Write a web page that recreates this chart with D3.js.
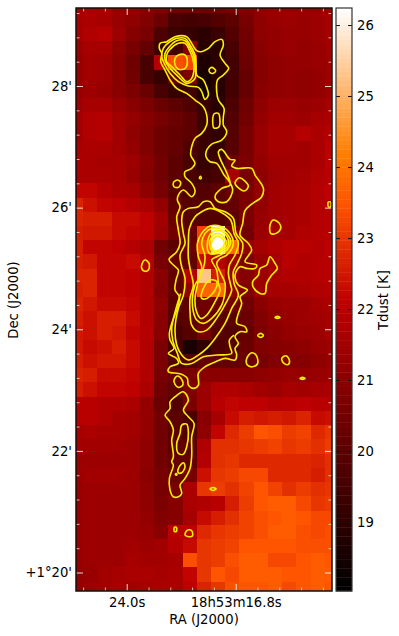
<!DOCTYPE html>
<html>
<head>
<meta charset="utf-8">
<script src="https://cdn.jsdelivr.net/npm/d3@7"></script>
<style>
  html, body { margin: 0; background: #fff; }
  svg { display: block; }
  text { font-family: "DejaVu Sans", sans-serif; font-size: 13.2px; fill: #000; }
</style>
</head>
<body>
<div id="chart"></div>
<script>
// Tdust map in K, one row per map line (north at the top), 19 columns east to west
const tdustMap = [
  [21.5,21.6,21.6,21.3,21.2,21.0,20.8,20.5,20.4,20.4,20.5,20.7,20.8,21.1,21.3,21.3,21.3,21.3,21.4],
  [21.6,21.7,21.6,21.3,21.1,20.8,20.3,19.6,19.5,19.6,19.8,20.0,20.6,21.1,21.3,21.4,21.3,21.4,21.6],
  [21.6,21.8,22.0,21.4,20.9,20.6,19.7,19.3,19.2,19.0,19.3,19.8,20.5,21.1,21.2,21.3,21.3,21.4,21.6],
  [21.4,21.6,21.6,21.1,20.6,20.2,19.3,19.5,20.9,18.9,18.9,19.6,20.4,21.0,21.2,21.3,21.2,21.3,21.5],
  [21.3,21.5,21.4,21.0,20.4,19.6,21.9,23.4,23.3,18.7,19.0,19.5,20.3,20.9,21.1,21.2,21.2,21.3,21.4],
  [21.3,21.5,21.4,21.0,20.5,19.6,19.2,20.2,20.7,18.5,18.9,19.5,20.2,20.9,21.1,21.2,21.1,21.2,21.4],
  [21.3,21.4,21.3,21.0,20.7,20.3,19.6,19.2,19.4,18.5,18.9,19.5,20.2,21.0,21.1,21.2,21.1,21.2,21.4],
  [21.4,21.6,21.6,21.3,21.0,20.7,20.3,20.0,19.7,19.2,18.9,19.7,20.4,21.1,21.4,21.4,21.3,21.4,21.6],
  [21.5,21.8,21.9,21.5,21.2,20.9,20.6,20.3,20.0,19.3,19.1,19.8,20.5,21.2,21.5,21.5,21.4,21.6,21.7],
  [21.5,21.8,21.9,21.5,21.1,20.8,20.4,20.2,20.0,19.3,19.1,19.9,20.6,21.3,21.6,21.6,21.9,21.7,21.9],
  [21.6,21.7,21.7,21.5,21.2,20.8,20.4,20.2,19.7,19.3,19.2,19.9,20.6,21.3,21.6,21.6,21.5,21.7,22.1],
  [21.7,21.7,21.6,21.6,21.4,21.0,20.5,20.0,19.6,19.2,19.4,20.4,20.7,21.2,21.5,21.5,21.5,21.7,22.1],
  [21.7,21.7,21.7,21.6,21.3,20.9,20.5,20.0,19.6,19.4,19.6,21.6,20.6,21.1,21.4,21.5,21.6,21.8,22.0],
  [22.2,22.2,21.9,21.7,21.6,21.1,20.6,20.0,19.8,19.8,20.0,20.3,20.7,21.2,21.5,21.6,21.7,21.9,22.1],
  [22.7,22.4,22.2,22.1,21.9,21.7,21.2,20.2,19.9,19.9,20.0,20.2,20.7,21.2,21.5,21.6,21.7,21.9,22.0],
  [22.7,22.6,22.6,22.3,22.3,22.1,21.5,20.3,19.9,19.8,19.8,20.0,20.7,21.3,21.5,21.6,21.7,21.9,22.0],
  [22.6,22.5,22.5,22.3,22.2,22.1,21.4,20.5,20.2,23.2,26.1,20.9,20.5,21.4,21.6,21.6,21.8,21.9,22.0],
  [22.6,22.2,22.2,22.1,21.9,21.7,20.5,20.0,20.3,23.6,26.2,23.8,21.2,21.6,21.8,22.0,22.0,21.9,22.1],
  [22.6,22.5,22.2,22.2,22.3,21.9,20.6,20.3,20.2,22.3,22.0,21.4,20.7,21.3,21.6,22.0,21.8,21.9,22.0],
  [22.7,22.7,22.2,22.2,22.1,21.8,21.0,20.2,21.9,25.3,22.6,21.3,20.9,21.4,21.7,21.8,21.8,21.9,22.0],
  [22.6,22.7,22.2,22.2,22.1,21.8,20.9,20.2,21.2,23.7,23.8,21.2,20.8,21.4,21.6,21.6,21.7,21.8,21.9],
  [22.7,22.5,22.3,22.3,22.2,21.8,21.1,20.0,20.0,20.4,20.4,20.5,20.5,21.0,21.3,21.4,21.4,21.6,21.7],
  [22.6,22.4,22.6,22.6,22.3,21.8,21.0,19.9,20.0,20.3,20.0,20.0,20.3,20.8,21.1,21.3,21.4,21.5,21.6],
  [22.5,22.4,22.6,22.5,22.2,21.9,21.0,19.6,19.9,20.6,19.9,19.8,20.2,20.7,21.0,21.2,21.3,21.4,21.6],
  [22.5,22.3,22.4,22.6,22.3,21.8,20.7,19.5,18.6,19.1,19.7,19.9,20.3,20.8,20.9,21.0,21.1,21.3,21.4],
  [22.6,22.4,22.5,22.5,22.3,21.8,20.7,19.8,19.9,20.2,20.2,20.2,20.3,20.6,20.8,20.9,20.9,21.1,21.3],
  [22.7,22.6,22.3,22.3,22.2,21.8,20.6,20.4,20.6,21.0,21.0,21.0,21.0,21.1,21.2,21.3,21.2,21.3,21.4],
  [22.6,22.4,22.2,22.2,22.1,21.7,20.5,20.1,20.8,21.4,21.8,21.8,21.7,21.5,21.4,21.6,21.5,21.6,21.7],
  [22.0,22.0,21.8,21.8,21.7,21.2,20.3,19.8,20.7,21.4,22.0,22.2,22.1,22.1,21.9,22.0,22.1,22.0,22.0],
  [22.0,22.0,21.8,21.6,21.5,21.2,20.5,20.0,19.7,21.0,21.6,22.3,22.6,22.5,22.6,22.5,22.7,22.3,22.4],
  [21.6,21.7,21.6,21.6,21.5,21.2,20.5,20.0,19.8,21.1,22.2,22.8,23.1,23.5,23.4,23.1,23.2,22.8,23.0],
  [21.5,21.5,21.5,21.5,21.4,21.1,20.5,20.1,20.1,21.8,22.9,22.9,23.0,23.1,23.2,23.0,23.1,22.9,23.1],
  [21.4,21.4,21.4,21.4,21.4,21.1,20.5,20.2,20.2,21.9,22.9,23.0,22.8,22.8,22.8,22.8,22.8,22.7,22.9],
  [21.4,21.5,21.5,21.5,21.4,21.0,20.6,20.3,20.6,22.4,23.0,23.1,23.3,23.3,22.8,22.8,22.8,22.6,22.9],
  [21.3,21.4,21.4,21.4,21.4,21.1,20.6,20.6,21.7,23.0,23.1,22.9,23.2,23.5,23.2,22.9,23.1,22.9,23.0],
  [21.3,21.4,21.4,21.4,21.4,21.1,20.7,20.9,21.7,21.8,22.0,22.6,23.1,23.5,23.6,23.6,23.3,23.0,23.1],
  [21.3,21.4,21.4,21.4,21.4,21.2,20.8,20.9,21.6,22.3,22.6,22.9,23.2,23.4,23.5,23.6,23.5,23.3,23.3],
  [21.3,21.4,21.4,21.4,21.4,21.3,21.0,22.0,22.1,22.8,23.0,23.1,23.2,23.4,23.6,23.6,23.4,23.3,23.4],
  [21.3,21.4,21.4,21.4,21.5,21.4,21.5,21.9,22.3,23.0,23.1,23.2,23.5,23.5,23.5,23.5,23.4,23.4,23.4],
  [21.3,21.4,21.4,21.4,21.6,21.5,21.5,21.6,23.4,23.0,23.1,23.4,23.6,23.6,23.3,23.3,23.5,23.6,23.5],
  [21.2,21.3,21.5,21.6,21.7,21.7,21.6,21.7,22.2,23.0,23.5,23.3,23.6,23.6,23.6,23.5,23.5,23.6,23.6],
  [21.2,21.4,21.5,21.6,21.5,21.6,21.7,21.7,22.1,22.7,23.0,23.4,23.5,23.5,23.6,23.3,23.5,23.6,23.5],
];

// tick positions
const raMajor = [24.0, 16.8];
const raMinor = [26.88, 25.44, 22.56, 21.12, 19.68, 18.24, 15.36, 13.92, 12.48, 11.04];
const decMajor = [20, 22, 24, 26, 28];
const decMinor = [20.4, 20.8, 21.2, 21.6, 22.4, 22.8, 23.2, 23.6, 24.4, 24.8, 25.2, 25.6,
  26.4, 26.8, 27.2, 27.6, 28.4, 28.8, 29.2];
const cbarTicks = [19, 20, 21, 22, 23, 24, 25, 26];

// contours, vertices in [u, v] of the finer contour map
const contourOuter = [
  [315,110],[350,110],[365,130],[378,150],[392,155],[415,145],[435,125],[455,118],[460,135],[450,165],
  [465,190],[476,205],[460,225],[442,240],[440,275],[445,300],[462,325],[460,350],[460,375],[470,395],
  [455,420],[425,432],[410,450],[408,470],[420,485],[440,490],[462,525],[478,545],[488,570],[470,605],
  [445,605],[435,590],[455,565],[480,555],[473,525],[450,475],[445,455],[455,448],[480,478],[495,480],
  [485,497],[500,505],[545,505],[555,525],[580,565],[575,590],[545,612],[525,632],[518,670],[510,705],
  [535,730],[545,750],[525,785],[560,795],[555,805],[530,805],[510,800],[495,825],[505,855],[532,870],
  [510,890],[515,910],[505,940],[500,970],[525,980],[530,995],[510,995],[495,1010],[505,1030],[495,1045],
  [500,1065],[495,1080],[465,1075],[430,1088],[405,1100],[385,1120],[385,1155],[370,1165],[355,1155],[352,1135],
  [340,1125],[325,1120],[295,1115],[300,1100],[325,1090],[320,1075],[295,1060],[312,1045],[300,1020],
  [298,1000],[305,970],[320,930],[328,890],[315,870],[318,840],[325,810],[310,795],[297,778],[320,755],
  [330,730],[325,690],[320,650],[330,620],[322,600],[325,585],[340,570],[365,590],[375,575],[365,550],
  [345,530],[345,515],[365,505],[375,490],[362,465],[365,440],[375,415],[395,400],[410,375],[410,345],
  [400,320],[375,300],[350,280],[320,265],[300,240],[285,210],[272,185],[275,160],[268,145],[270,130],[290,125],
];
const contourClump2 = [
  [300,125],[320,115],[345,115],[360,135],[375,165],[378,195],[380,225],[400,240],[410,262],[415,285],
  [405,298],[395,275],[385,262],[355,258],[325,245],[300,220],[285,195],[275,170],[280,145],
];
const contourClump3 = [
  [298,140],[320,122],[345,122],[358,140],[372,170],[375,200],[375,235],[350,250],[325,230],[300,205],[285,180],[285,160],
];
const contourClump4 = [
  [298,150],[325,130],[345,130],[358,150],[368,175],[372,205],[365,235],[350,245],[330,225],[305,200],[290,185],[290,165],
];
const contourClumpCore = [[315,175],[325,165],[345,165],[352,185],[345,205],[325,208],[315,195]];
// runs along the south end of the main ridge and leaves the ridge on its east side
const contourMainLower = [
  [332,880],[318,925],[305,985],[308,1020],[322,1060],[335,1090],[365,1090],[400,1070],[440,1065],[485,1060],
  [480,1040],[478,1020],[492,1005],
];
const contourMain3 = [
  [340,635],[355,625],[385,620],[400,605],[420,605],[435,625],[465,635],[490,655],[498,700],[518,730],
  [515,760],[502,790],[490,815],[492,850],[505,885],[485,925],[465,970],[435,1015],[410,1045],[385,1065],
  [355,1080],[335,1065],[320,1035],[315,985],[325,925],[340,885],[345,835],[335,800],[330,765],[345,730],
  [340,700],[335,660],
];
const contourMain4 = [
  [358,685],[375,650],[395,635],[420,625],[450,635],[482,660],[492,700],[505,730],[495,765],[478,795],
  [475,820],[482,855],[485,870],[470,905],[440,955],[410,990],[385,995],[365,975],[360,935],[360,895],
  [370,855],[362,815],[355,775],[355,730],
];
const contourMain5 = [
  [382,730],[395,700],[420,678],[455,680],[480,700],[490,730],[470,765],[450,775],[440,790],[450,815],
  [465,850],[465,875],[455,915],[425,955],[400,970],[380,960],[370,935],[367,895],[375,855],[390,830],
  [395,800],[385,770],
];
const contourMain6 = [
  [395,730],[405,700],[425,685],[455,688],[480,715],[480,735],[460,760],[440,770],[425,780],[440,810],
  [445,850],[450,870],[435,905],[410,945],[392,955],[378,930],[375,895],[382,855],[385,840],[400,805],[405,770],
];
const contourMain7 = [[398,870],[420,840],[440,845],[435,870],[410,895],[395,895]];
const contourHot1 = [[412,730],[425,698],[450,692],[472,712],[475,735],[455,755],[435,762],[418,760]];
const contourHot2 = [[418,730],[432,703],[450,702],[468,722],[465,742],[448,752],[430,757]];
const contourHot3 = [[423,733],[437,710],[455,714],[463,733],[450,748],[432,752]];
const contourSouth = [
  [300,1205],[315,1190],[340,1175],[355,1200],[340,1230],[355,1250],[372,1270],[365,1310],[365,1365],
  [360,1405],[345,1435],[330,1455],[335,1480],[325,1490],[310,1490],[300,1470],[298,1435],[310,1395],
  [305,1385],[310,1370],[305,1320],[310,1290],[300,1265],[285,1245],[300,1225],
];
const contourSouthIn = [[335,1275],[350,1272],[355,1300],[350,1340],[340,1362],[325,1360],[320,1330],[330,1300]];
const contourSouthIn2 = [[325,1405],[340,1388],[345,1400],[335,1418],[325,1418]];
const contourIslands = [
  [[417,210],[425,202],[437,212],[430,220],[420,218]],
  [[432,342],[445,340],[447,380],[432,384],[428,365]],
  [[310,548],[322,540],[332,548],[325,562],[312,560]],
  [[388,533],[391,529],[394,533],[391,537]],
  [[495,550],[508,533],[535,558],[522,573]],
  [[775,606],[782,606],[782,620],[775,620]],
  [[215,795],[225,780],[237,790],[235,810],[222,813],[215,805]],
  [[600,770],[615,790],[622,805],[605,825],[590,850],[585,880],[570,880],[550,862],[548,845],[565,825],[570,805],[590,795]],
  [[600,675],[610,660],[628,670],[632,685],[618,700],[602,700]],
  [[615,952],[622,949],[630,952],[622,955]],
  [[563,1006],[572,1000],[580,1006],[572,1012]],
  [[530,1075],[545,1058],[558,1065],[563,1090],[548,1100],[532,1095]],
  [[635,1075],[648,1067],[658,1080],[655,1093],[642,1090]],
  [[690,1135],[697,1132],[705,1135],[697,1138]],
  [[312,1140],[322,1128],[335,1138],[338,1155],[325,1162],[315,1153]],
  [[316,1422],[319,1420],[321,1423],[318,1425]],
  [[420,1466],[429,1462],[438,1466],[429,1471]],
  [[313,1582],[319,1582],[319,1594],[313,1594]],
  [[345,1605],[352,1590],[365,1592],[367,1608],[352,1609]],
];
const closedContours = [contourOuter, contourClump2, contourClump3, contourClump4, contourClumpCore,
  contourMain3, contourMain4, contourMain5, contourMain6, contourMain7,
  contourHot1, contourHot2, contourHot3, contourSouth, contourSouthIn, contourSouthIn2, ...contourIslands];

const width = 399;
const height = 636;
const margin = { top: 8, right: 67, bottom: 45, left: 76 };
const plotRight = width - margin.right;
const plotBottom = height - margin.bottom;

// sky coordinates: RA seconds past 18h53m, Dec arcmin past +1 deg
const x = d3.scaleLinear().domain([27.349, 10.44]).range([margin.left, plotRight]);
const y = d3.scaleLinear().domain([29.283, 19.696]).range([margin.top, plotBottom]);
const cbarY = d3.scaleLinear().domain([26.24, 18.03]).range([margin.top, plotBottom]);

// map grid in sky coordinates
const mapRa0 = 27.818;
const mapDec0 = 29.44;
const cellRa = 0.939;
const cellDec = 0.2339;

// contour map grid to sky
const contourX = (u) => x(24 - (u - 170) / 45.42);
const contourY = (v) => y(28 - (v - 258) / 182.4);

// gist_heat colormap
const heat = (t) => {
  const f = Math.max(0, Math.min(1, (t - 18.03) / (26.24 - 18.03)));
  const c = (v) => Math.round(255 * Math.max(0, Math.min(1, v)));
  return `rgb(${c(1.5 * f)},${c(2 * f - 1)},${c(4 * f - 3)})`;
};

const svg = d3.select("#chart").append("svg").attr("width", width).attr("height", height);

const defs = svg.append("defs");
defs.append("clipPath").attr("id", "plot-clip")
  .append("rect")
  .attr("x", margin.left)
  .attr("y", margin.top)
  .attr("width", plotRight - margin.left)
  .attr("height", plotBottom - margin.top);

// the reference is slightly soft from resampling
defs.append("filter").attr("id", "soft")
  .attr("color-interpolation-filters", "sRGB")
  .append("feGaussianBlur").attr("stdDeviation", 0.3);

const gClip = svg.append("g").attr("clip-path", "url(#plot-clip)");
const gMap = gClip.append("g").attr("filter", "url(#soft)");

tdustMap.forEach((row, i) => {
  gMap.append("g")
    .selectAll("rect")
    .data(row)
    .join("rect")
    .attr("x", (d, j) => x(mapRa0 - j * cellRa))
    .attr("y", y(mapDec0 - i * cellDec))
    .attr("width", x(mapRa0 - cellRa) - x(mapRa0))
    .attr("height", y(mapDec0 - cellDec) - y(mapDec0))
    .attr("fill", (d) => heat(d))
    .attr("shape-rendering", "crispEdges");
});

const closedLine = d3.line()
  .x((d) => contourX(d[0]))
  .y((d) => contourY(d[1]))
  .curve(d3.curveCatmullRomClosed.alpha(0.5));

const openLine = d3.line()
  .x((d) => contourX(d[0]))
  .y((d) => contourY(d[1]))
  .curve(d3.curveCatmullRom.alpha(0.5));

gMap.selectAll(".contour")
  .data(closedContours)
  .join("path")
  .attr("class", "contour")
  .attr("d", closedLine);

gMap.append("path")
  .attr("class", "contour")
  .attr("d", openLine(contourMainLower));

gMap.selectAll(".contour")
  .attr("fill", "none")
  .attr("stroke", "#fbf000")
  .attr("stroke-width", 1.6);

// ticks point into the map, drawn white on all four sides
const tickStyle = (g, size) => {
  g.select(".domain").remove();
  g.selectAll("line").attr("stroke", "#fff").attr("stroke-opacity", size > 5 ? 0.85 : 0.7);
};

const addAxis = (axis, tx, ty, values, size, fmt) => {
  const g = svg.append("g")
    .attr("transform", `translate(${tx},${ty})`)
    .call(axis.tickValues(values).tickSize(-size).tickPadding(6).tickFormat(fmt || ""));
  tickStyle(g, size);
  return g;
};

addAxis(d3.axisBottom(x), 0, plotBottom, raMinor, 3.5);
addAxis(d3.axisTop(x), 0, margin.top, raMinor, 3.5);
addAxis(d3.axisLeft(y), margin.left, 0, decMinor, 3.5);
addAxis(d3.axisRight(y), plotRight, 0, decMinor, 3.5);

const raLabel = (d) => (d === 24 ? "24.0s" : "18h53m16.8s");
const decLabel = (d) => (d === 20 ? "+1°20'" : `${d}'`);

addAxis(d3.axisBottom(x), 0, plotBottom, raMajor, 7, raLabel)
  .selectAll("text").attr("dy", "0.71em").attr("y", 7);
addAxis(d3.axisTop(x), 0, margin.top, raMajor, 7);
addAxis(d3.axisLeft(y), margin.left, 0, decMajor, 7, decLabel)
  .selectAll("text").attr("x", -4);
addAxis(d3.axisRight(y), plotRight, 0, decMajor, 7);

svg.append("rect")
  .attr("x", margin.left)
  .attr("y", margin.top)
  .attr("width", plotRight - margin.left)
  .attr("height", plotBottom - margin.top)
  .attr("fill", "none")
  .attr("stroke", "#111")
  .attr("stroke-width", 1.5);

// colorbar
const cbarLeft = 336;
const cbarWidth = 16;
const cbarLevels = d3.range(128).map((i) => 18.03 + (i + 0.5) * (26.24 - 18.03) / 128);
const cbarStep = (26.24 - 18.03) / 128;

svg.append("g")
  .selectAll("rect")
  .data(cbarLevels)
  .join("rect")
  .attr("x", cbarLeft)
  .attr("y", (d) => cbarY(d + cbarStep / 2))
  .attr("width", cbarWidth)
  .attr("height", cbarY(0) - cbarY(cbarStep) + 0.4)
  .attr("fill", (d) => heat(d));

const gCbarLeft = svg.append("g")
  .attr("transform", `translate(${cbarLeft},0)`)
  .call(d3.axisLeft(cbarY).tickValues(cbarTicks).tickSize(-4).tickFormat(""));
gCbarLeft.select(".domain").remove();
gCbarLeft.selectAll("line").attr("stroke", "#111");

const gCbarRight = svg.append("g")
  .attr("transform", `translate(${cbarLeft + cbarWidth},0)`)
  .call(d3.axisRight(cbarY).tickValues(cbarTicks).tickSize(-4).tickPadding(5).tickFormat((d) => d));
gCbarRight.select(".domain").remove();
gCbarRight.selectAll("line").attr("stroke", "#111");

svg.append("rect")
  .attr("x", cbarLeft)
  .attr("y", margin.top)
  .attr("width", cbarWidth)
  .attr("height", plotBottom - margin.top)
  .attr("fill", "none")
  .attr("stroke", "#333")
  .attr("stroke-width", 1.2);

svg.selectAll(".tick text").style("font-size", "13.2px").attr("fill", "#000");

svg.append("text")
  .attr("x", 204)
  .attr("y", 624)
  .attr("text-anchor", "middle")
  .text("RA (J2000)");

svg.append("text")
  .attr("transform", "translate(18,300) rotate(-90)")
  .attr("text-anchor", "middle")
  .text("Dec (J2000)");

svg.append("text")
  .attr("transform", "translate(388,300) rotate(-90)")
  .attr("text-anchor", "middle")
  .text("Tdust [K]");
</script>
</body>
</html>
